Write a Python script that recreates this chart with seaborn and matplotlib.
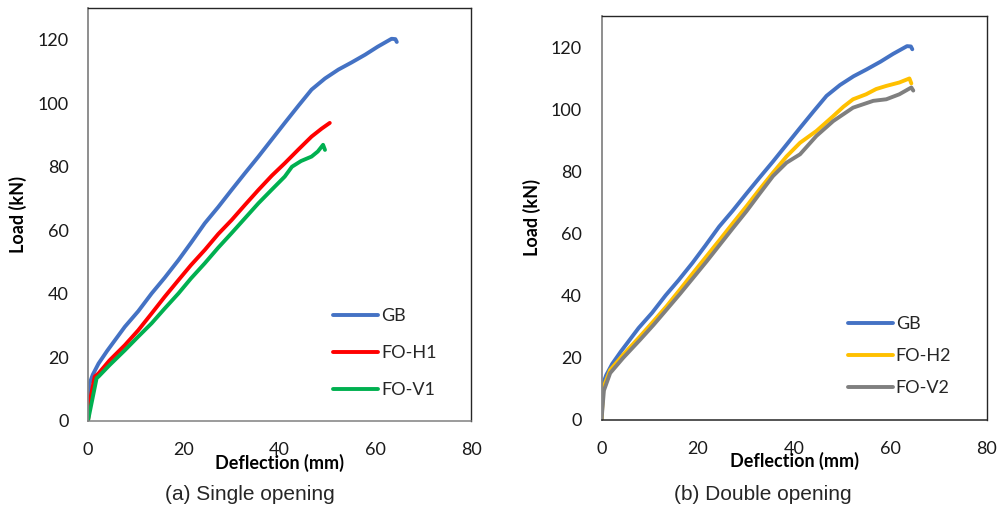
import matplotlib
matplotlib.use('Agg')
import matplotlib.pyplot as plt
import seaborn as sns

# ---- data (deflection in mm, load in kN) ----
gb_x = [0, 0.35, 1.0, 2.2, 4.0, 7.7, 10.5, 13.3, 16.0, 18.9, 21.5, 24.4, 27.2,
        30.0, 32.8, 35.6, 38.4, 41.1, 44.0, 46.7, 49.5, 52.3, 55.0, 57.9, 60.5,
        63.4, 64.2, 64.5]
gb_y = [0, 11.8, 14.5, 18.0, 22.0, 29.6, 34.5, 40.1, 45.0, 50.6, 56.0, 62.2, 67.3,
        72.7, 78.0, 83.2, 88.6, 93.8, 99.3, 104.3, 107.8, 110.6, 112.8, 115.3, 117.8,
        120.3, 120.2, 119.3]

h1_x = [0, 0.5, 1.4, 2.2, 4.5, 7.7, 10.5, 13.3, 16.0, 18.9, 21.5, 24.4, 27.2, 30.0,
        32.8, 35.6, 38.4, 41.1, 44.0, 46.7, 48.8, 50.5]
h1_y = [0, 7.0, 13.9, 14.9, 19.0, 23.8, 28.5, 33.8, 39.0, 44.3, 49.0, 53.8, 58.8, 63.2,
        68.0, 72.7, 77.2, 81.1, 85.5, 89.5, 92.0, 93.8]

v1_x = [0, 1.8, 2.2, 4.5, 7.7, 10.5, 13.3, 16.0, 18.9, 21.5, 24.4, 27.2, 30.0, 32.8,
        35.6, 38.4, 41.1, 42.6, 44.5, 46.7, 48.0, 49.1, 49.5]
v1_y = [0, 13.4, 13.9, 17.5, 22.2, 26.5, 30.7, 35.3, 40.1, 44.8, 49.6, 54.5, 59.1, 63.8,
        68.5, 72.8, 76.9, 80.0, 81.8, 83.2, 84.8, 86.9, 85.3]

h2_x = [0, 0.4, 1.8, 4.5, 8.0, 10.8, 13.5, 16.3, 19.0, 21.8, 24.6, 27.3, 30.1, 32.8,
        35.6, 38.4, 41.2, 44.6, 48.1, 50.2, 52.2, 54.9, 57.0, 59.1, 61.8, 63.9, 64.3]
h2_y = [0, 10.5, 16.1, 21.0, 26.9, 31.8, 36.6, 42.0, 47.3, 52.7, 58.1, 63.4, 68.8, 74.2,
        79.6, 84.8, 89.2, 93.0, 97.8, 100.8, 103.2, 104.8, 106.5, 107.5, 108.6, 109.9, 108.3]

v2_x = [0, 0.5, 1.8, 4.5, 8.0, 10.8, 13.5, 16.3, 19.0, 21.8, 24.6, 27.3, 30.1, 32.8,
        35.6, 38.4, 41.2, 44.6, 48.1, 52.2, 56.4, 59.1, 61.8, 64.3, 64.7]
v2_y = [0, 9.5, 15.1, 20.0, 25.8, 30.6, 35.5, 40.6, 45.7, 51.0, 56.5, 61.8, 67.2, 72.8,
        78.5, 82.8, 85.5, 91.4, 96.2, 100.5, 102.7, 103.2, 104.8, 107.0, 106.0]

panels = [
    {'series': [('GB', gb_x, gb_y, '#4472C4'),
                ('FO-H1', h1_x, h1_y, '#FF0000'),
                ('FO-V1', v1_x, v1_y, '#00B050')],
     'caption': '(a) Single opening'},
    {'series': [('GB', gb_x, gb_y, '#4472C4'),
                ('FO-H2', h2_x, h2_y, '#FFC000'),
                ('FO-V2', v2_x, v2_y, '#7F7F7F')],
     'caption': '(b) Double opening'},
]

sns.set_style('white')
plt.rcParams['font.family'] = ['Lato', 'DejaVu Sans']

W, H = 1006, 507
fig = plt.figure(figsize=(W / 100, H / 100), dpi=100)

# axes boxes in pixels: left, top, right, bottom
boxes = [(88, 8, 471, 420.7), (601.5, 16, 987, 420)]
leg_anchor = [(0.64, 0.164), (0.639, 0.158)]
leg_space = [1.16, 0.88]
caption_x = [250, 763]
bottom_col = ['#808080', '#262626']

for i, p in enumerate(panels):
    l, t, r, b = boxes[i]
    ax = fig.add_axes([l / W, 1 - b / H, (r - l) / W, (b - t) / H])
    for name, xs, ys, col in p['series']:
        sns.lineplot(x=xs, y=ys, ax=ax, color=col, lw=2.8, label=name,
                     sort=False, estimator=None, solid_capstyle='round')
    ax.set_xlim(0, 80)
    ax.set_ylim(0, 130)
    ax.set_xticks([0, 20, 40, 60, 80])
    ax.set_yticks([0, 20, 40, 60, 80, 100, 120])
    ax.tick_params(axis='both', length=0, labelsize=13, colors='#1a1a1a')
    ax.tick_params(axis='x', pad=15)
    ax.tick_params(axis='y', pad=14)

    for side in ['top', 'right']:
        ax.spines[side].set_color('#262626')
        ax.spines[side].set_linewidth(1.0)
    ax.spines['left'].set_color('#868686')
    ax.spines['left'].set_linewidth(1.3)
    ax.spines['bottom'].set_color(bottom_col[i])
    ax.spines['bottom'].set_linewidth(1.1)

    ax.set_xlabel('Deflection (mm)', fontsize=13, fontweight='bold', color='black')
    ax.set_ylabel('Load (kN)', fontsize=13, fontweight='bold', color='black')
    ax.xaxis.set_label_coords(0.5, -0.08)
    ax.yaxis.set_label_coords(-0.158, 0.5)

    ax.legend(loc='center left', bbox_to_anchor=leg_anchor[i], frameon=False,
              fontsize=13, handlelength=2.5, handletextpad=0.15,
              labelspacing=leg_space[i], borderpad=0, borderaxespad=0)

    fig.text(caption_x[i] / W, 1 - 495 / H, p['caption'], ha='center', va='center',
             fontsize=15, family=['Liberation Sans', 'DejaVu Sans'])

fig.savefig('out.png', dpi=100)
